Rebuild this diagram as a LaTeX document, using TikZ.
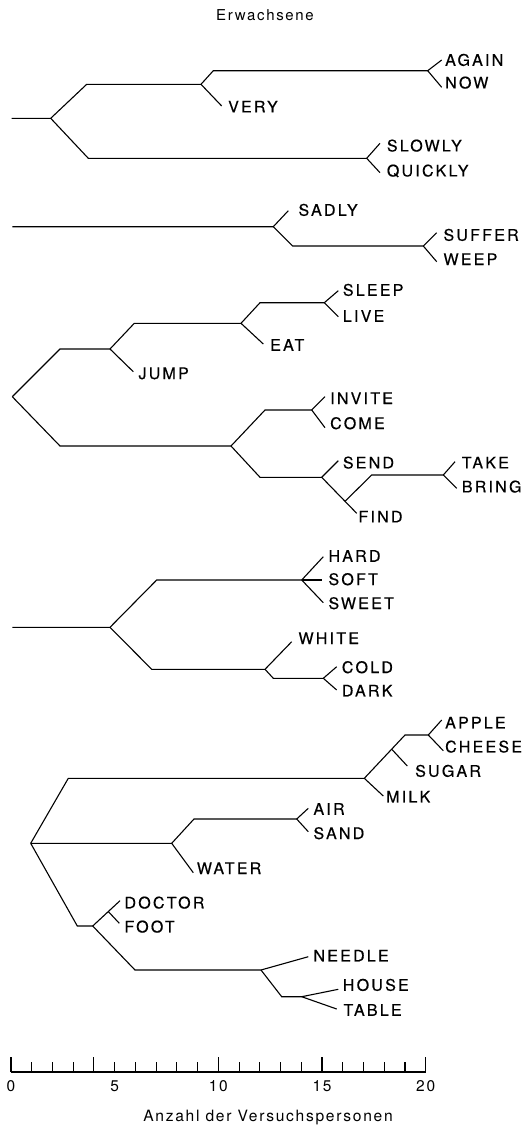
\documentclass[tikz,border=0pt]{standalone}
\usepackage{fontspec}
\newfontfamily\labfont{TeX Gyre Heros}[LetterSpace=14,FakeBold=0.5]
\newfontfamily\capfont{TeX Gyre Heros}[LetterSpace=11]
\begin{document}
\begin{tikzpicture}[x=1pt,y=-1pt,
  lab/.style={anchor=west, inner sep=0pt, text height=11.5pt, text depth=0pt, font=\labfont\fontsize{16pt}{16pt}\selectfont},
  captxt/.style={inner sep=0pt, font=\capfont\fontsize{15pt}{15pt}\selectfont},
  axtxt/.style={inner sep=0pt, font=\capfont\fontsize{15.6pt}{15.6pt}\selectfont},
  numtxt/.style={inner sep=0pt, font=\capfont\fontsize{15.5pt}{15.5pt}\selectfont},
  tree/.style={draw, line width=1.1pt, line join=miter},
  axisline/.style={draw, line width=1.1pt}]
\useasboundingbox (0,0) rectangle (528,1128);

\node[captxt] (title) at (265,15) {Erwachsene};

% ---------- cluster 1
\coordinate (r1) at (11.7,118.3);
\coordinate (a1) at (50.7,118.3);
\coordinate (a1u) at (86.7,84.3);
\coordinate (b1) at (201,84.3);
\coordinate (b1u) at (213.3,70.7);
\coordinate (c1) at (427.7,70.7);
\coordinate (a1d) at (88.3,158.3);
\coordinate (d1) at (366.7,158.3);
\coordinate (e-again) at (441.7,60);
\coordinate (e-now) at (441.7,87.3);
\coordinate (e-very) at (221.7,106);
\coordinate (e-slowly) at (380,143.3);
\coordinate (e-quickly) at (380,172.7);
\node[lab] (again) at (445,60) {AGAIN};
\node[lab] (now) at (445,82.7) {NOW};
\node[lab] (very) at (228,106.7) {VERY};
\node[lab] (slowly) at (386.7,145.7) {SLOWLY};
\node[lab] (quickly) at (386.7,170.7) {QUICKLY};
\path[tree] (r1) -- (a1) -- (a1u) -- (b1) -- (b1u) -- (c1) -- (e-again);
\path[tree] (c1) -- (e-now);
\path[tree] (b1) -- (e-very);
\path[tree] (a1) -- (a1d) -- (d1) -- (e-slowly);
\path[tree] (d1) -- (e-quickly);

% ---------- cluster 2
\coordinate (r2) at (12.3,226.7);
\coordinate (a2) at (273.3,226.7);
\coordinate (a2d) at (292.7,246);
\coordinate (b2) at (423.3,246);
\coordinate (e-sadly) at (288.3,210.7);
\coordinate (e-suffer) at (436.7,232.7);
\coordinate (e-weep) at (436.7,261.7);
\node[lab] (sadly) at (298.3,210) {SADLY};
\node[lab] (suffer) at (443.3,235) {SUFFER};
\node[lab] (weep) at (443.3,259.3) {WEEP};
\path[tree] (r2) -- (a2) -- (e-sadly);
\path[tree] (a2) -- (a2d) -- (b2) -- (e-suffer);
\path[tree] (b2) -- (e-weep);

% ---------- cluster 3
\coordinate (r3) at (12.3,396.7);
\coordinate (r3u) at (60,349);
\coordinate (a3) at (110,349);
\coordinate (a3u) at (134.3,323.3);
\coordinate (b3) at (241,323.3);
\coordinate (b3u) at (260,302.7);
\coordinate (c3) at (324.3,302.7);
\coordinate (e-sleep) at (338.3,290.7);
\coordinate (e-live) at (338.3,316.7);
\coordinate (e-eat) at (263.3,344);
\coordinate (e-jump) at (133.3,371.7);
\coordinate (r3d) at (60,446);
\coordinate (d3) at (231,446);
\coordinate (d3u) at (265,410);
\coordinate (f3) at (311.7,410);
\coordinate (e-invite) at (325,396.7);
\coordinate (e-come) at (325,427.7);
\coordinate (d3d) at (260,477.3);
\coordinate (g3) at (321.7,477.3);
\coordinate (e-send) at (338.3,460.7);
\coordinate (h3) at (345,501.3);
\coordinate (e-find) at (356.7,513.3);
\coordinate (h3u) at (371.7,475);
\coordinate (i3) at (443.3,475);
\coordinate (e-take) at (455,461.7);
\coordinate (e-bring) at (456.7,488.3);
\node[lab] (sleep) at (342.7,290) {SLEEP};
\node[lab] (live) at (342.7,316) {LIVE};
\node[lab] (eat) at (270,345) {EAT};
\node[lab] (jump) at (138.3,373.3) {JUMP};
\node[lab] (invite) at (330,398.3) {INVITE};
\node[lab] (come) at (330,423.3) {COME};
\node[lab] (send) at (342.7,462.7) {SEND};
\node[lab] (find) at (358.3,516.7) {FIND};
\node[lab] (take) at (461.7,462.7) {TAKE};
\node[lab] (bring) at (461.7,486.7) {BRING};
\path[tree] (r3) -- (r3u) -- (a3) -- (a3u) -- (b3) -- (b3u) -- (c3) -- (e-sleep);
\path[tree] (c3) -- (e-live);
\path[tree] (b3) -- (e-eat);
\path[tree] (a3) -- (e-jump);
\path[tree] (r3) -- (r3d) -- (d3) -- (d3u) -- (f3) -- (e-invite);
\path[tree] (f3) -- (e-come);
\path[tree] (d3) -- (d3d) -- (g3) -- (e-send);
\path[tree] (g3) -- (e-find);
\path[tree] (h3) -- (h3u) -- (i3) -- (e-take);
\path[tree] (i3) -- (e-bring);

% ---------- cluster 4
\coordinate (r4) at (12.3,627.3);
\coordinate (a4) at (110,627.3);
\coordinate (a4u) at (156.7,580);
\coordinate (b4) at (301.7,580);
\coordinate (e-hard) at (323.3,556.7);
\coordinate (e-soft) at (321.7,580);
\coordinate (e-sweet) at (323.3,602.7);
\coordinate (a4d) at (151.7,669.3);
\coordinate (c4) at (265,669.3);
\coordinate (e-white) at (291.7,641.7);
\coordinate (c4d) at (273.3,678.3);
\coordinate (d4) at (323.3,678.3);
\coordinate (e-cold) at (336.7,666.7);
\coordinate (e-dark) at (336.7,690);
\node[lab] (hard) at (328.3,556) {HARD};
\node[lab] (soft) at (328.3,579.3) {SOFT};
\node[lab] (sweet) at (328.3,603.3) {SWEET};
\node[lab] (white) at (298.3,638.3) {WHITE};
\node[lab] (cold) at (341.7,667.3) {COLD};
\node[lab] (dark) at (341.7,690.7) {DARK};
\path[tree] (r4) -- (a4) -- (a4u) -- (b4) -- (e-hard);
\path[tree] (b4) -- (e-soft);
\path[tree] (b4) -- (e-sweet);
\path[tree] (a4) -- (a4d) -- (c4) -- (e-white);
\path[tree] (c4) -- (c4d) -- (d4) -- (e-cold);
\path[tree] (d4) -- (e-dark);

% ---------- cluster 5
\coordinate (r5) at (30.7,843.3);
\coordinate (r5u) at (68.3,778.3);
\coordinate (a5) at (364.3,778.3);
\coordinate (s5) at (391.7,749.2);
\coordinate (a5u) at (405,735);
\coordinate (b5) at (428.3,735);
\coordinate (e-apple) at (441.7,720);
\coordinate (e-cheese) at (443.3,750.7);
\coordinate (e-sugar) at (407.3,766);
\coordinate (e-milk) at (383.3,796);
\coordinate (m5) at (171.7,843.3);
\coordinate (m5u) at (194,819);
\coordinate (n5) at (296.7,819);
\coordinate (e-air) at (308.3,808.3);
\coordinate (e-sand) at (308.3,831.7);
\coordinate (e-water) at (193.3,872.7);
\coordinate (r5d) at (77.3,926);
\coordinate (p5) at (92.7,926);
\coordinate (q5) at (108.3,911.5);
\coordinate (e-doctor) at (120,900.7);
\coordinate (e-foot) at (119.3,923.3);
\coordinate (p5d) at (135,970);
\coordinate (t5) at (261,970);
\coordinate (e-needle) at (308.3,956.7);
\coordinate (t5d) at (281.7,996.7);
\coordinate (u5) at (301.7,996.7);
\coordinate (e-house) at (338.3,989.3);
\coordinate (e-table) at (336.7,1009);
\node[lab] (apple) at (445,722.7) {APPLE};
\node[lab] (cheese) at (445,746.7) {CHEESE};
\node[lab] (sugar) at (415,771) {SUGAR};
\node[lab] (milk) at (386,796.7) {MILK};
\node[lab] (air) at (313.3,809) {AIR};
\node[lab] (sand) at (313.3,833.3) {SAND};
\node[lab] (water) at (196.7,868.3) {WATER};
\node[lab] (doctor) at (124.3,902.7) {DOCTOR};
\node[lab] (foot) at (124.3,926.7) {FOOT};
\node[lab] (needle) at (313.3,955.7) {NEEDLE};
\node[lab] (house) at (342.7,985) {HOUSE};
\node[lab] (table) at (343.3,1010) {TABLE};
\path[tree] (r5) -- (r5u) -- (a5) -- (a5u) -- (b5) -- (e-apple);
\path[tree] (b5) -- (e-cheese);
\path[tree] (s5) -- (e-sugar);
\path[tree] (a5) -- (e-milk);
\path[tree] (r5) -- (m5) -- (m5u) -- (n5) -- (e-air);
\path[tree] (n5) -- (e-sand);
\path[tree] (m5) -- (e-water);
\path[tree] (r5) -- (r5d) -- (p5) -- (e-doctor);
\path[tree] (q5) -- (e-foot);
\path[tree] (p5) -- (p5d) -- (t5) -- (e-needle);
\path[tree] (t5) -- (t5d) -- (u5) -- (e-house);
\path[tree] (u5) -- (e-table);

% ---------- axis
\coordinate (ax0) at (11,1072);
\coordinate (ax20) at (425.7,1072);
\path[axisline] (ax0) -- (ax20);
\foreach \i in {0,...,20} {
  \pgfmathsetmacro{\xx}{11+20.735*\i}
  \ifnum\i=0 \def\tl{15}\else\ifnum\i=4 \def\tl{15}\else\ifnum\i=10 \def\tl{15}\else\ifnum\i=15 \def\tl{15}\else\ifnum\i=20 \def\tl{15}\else\def\tl{10}\fi\fi\fi\fi\fi
  \path[axisline] (\xx,1072) -- (\xx,1072-\tl);
}
\foreach \v in {0,5,10,15,20} {
  \pgfmathsetmacro{\xx}{11+20.735*\v}
  \node[numtxt] (n\v) at (\xx,1086) {\v};
}
\node[axtxt] (axtitle) at (268,1118) {Anzahl der Versuchspersonen};
\end{tikzpicture}
\end{document}
